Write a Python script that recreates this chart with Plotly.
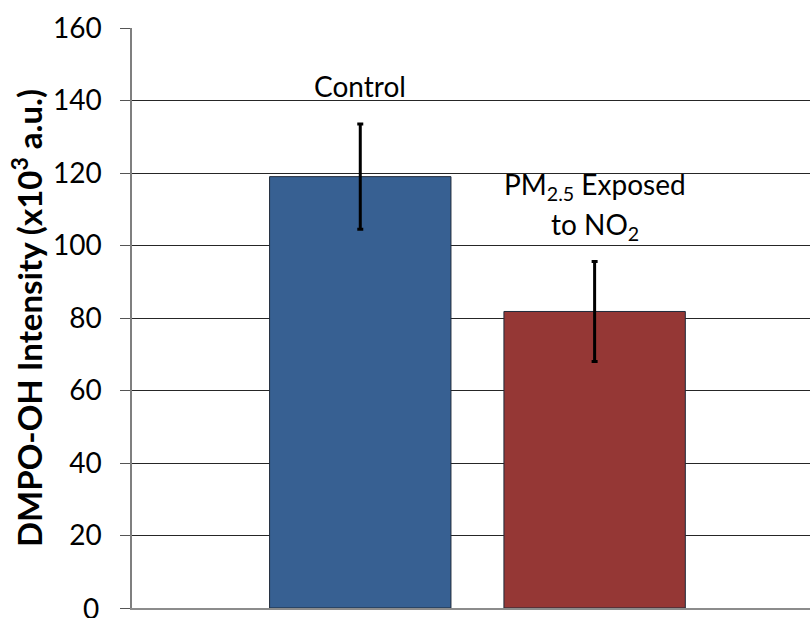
import plotly.graph_objects as go

categories = ["Control", "PM2.5 Exposed to NO2"]
values = [119.0, 81.8]
errors = [14.5, 13.8]
colors = ["#376092", "#953735"]
y_ticks = [0, 20, 40, 60, 80, 100, 120, 140, 160]

x_pos = [0, 1]

fig = go.Figure()
fig.add_trace(go.Bar(
    x=x_pos, y=values, width=0.774,
    marker=dict(color=colors, line=dict(color="#1f2a3a", width=1)),
    error_y=dict(type="data", array=errors, visible=True, color="black",
                 thickness=3, width=3),
    showlegend=False,
))

font_family = "Lato, 'Open Sans', sans-serif"
tick_size = 28

fig.update_layout(
    width=810, height=618,
    margin=dict(l=132, r=0, t=28, b=10),
    plot_bgcolor="white", paper_bgcolor="white",
    font=dict(family=font_family, size=24, color="black"),
    xaxis=dict(range=[-0.974, 1.919], showticklabels=False, showgrid=False,
               zeroline=False, showline=True, linecolor="#8c8c8c", linewidth=2,
               ticks=""),
    yaxis=dict(range=[0, 160], tickvals=y_ticks,
               ticktext=["" if v == 0 else str(v) for v in y_ticks],
               showgrid=True, gridcolor="#262626", gridwidth=1, zeroline=False,
               showline=True, linecolor="#7f7f7f", linewidth=1.5,
               ticks="outside", ticklen=10, tickcolor="#555555", tickwidth=1,
               ticklabelstandoff=13,
               tickfont=dict(size=tick_size, family=font_family, color="black")),
    annotations=[
        dict(x=0, y=144.1, xref="x", yref="y", text=categories[0],
             showarrow=False, font=dict(size=28, family=font_family)),
        dict(x=1, y=116.5, xref="x", yref="y", text="PM<sub>2.5</sub> Exposed",
             showarrow=False, font=dict(size=28, family=font_family)),
        dict(x=1, y=105.5, xref="x", yref="y", text="to NO<sub>2</sub>",
             showarrow=False, font=dict(size=28, family=font_family)),
        dict(x=0, y=y_ticks[0], xref="paper", yref="y", text=str(y_ticks[0]),
             showarrow=False, xanchor="right", yanchor="middle", xshift=-31,
             font=dict(size=tick_size, family=font_family, color="black")),
        dict(x=(27 - 132) / 678, y=0.5, xref="paper", yref="paper",
             text="<b>DMPO-OH Intensity (x10<sup>3</sup> a.u.)</b>",
             textangle=-90, showarrow=False, xanchor="center", yanchor="middle",
             font=dict(size=33, family=font_family)),
    ],
)

fig.write_html("out.html", config={"displayModeBar": False},
               post_script="document.body.style.margin='0';document.body.style.overflow='hidden';")
